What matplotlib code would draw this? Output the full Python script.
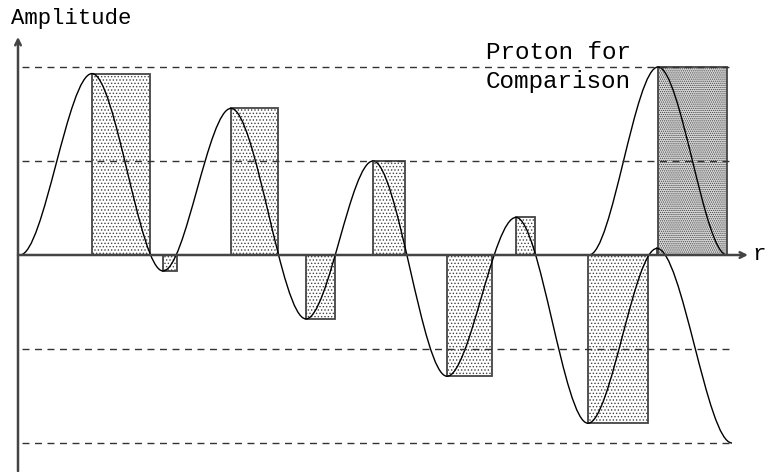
import matplotlib
matplotlib.use('Agg')
import matplotlib.pyplot as plt
from matplotlib.path import Path
from matplotlib.patches import PathPatch, Rectangle

# Turning points of the main wave (x in pixels along r, y in amplitude units)
waveX = [20, 92, 163, 231, 306, 373, 447, 516, 588, 657, 732]
waveY = [0.0, 1.93, -0.17, 1.56, -0.68, 1.0, -1.29, 0.40, -1.79, 0.07, -2.0]

# Stippled boxes: from each extremum to the next zero crossing
boxLeft = [92, 163, 231, 306, 373, 447, 516, 588, 657]
boxRight = [150, 177, 278, 335, 405, 492, 535, 648, 666]
boxHeight = [1.93, -0.17, 1.56, -0.68, 1.0, -1.29, 0.40, -1.79, 0.07]

# The proton pulse drawn for comparison
protonX = [589, 658, 727]
protonY = [0.0, 2.0, 0.0]
protonBox = [658, 727, 2.0]

# Dashed guide levels
guideLevels = [2, 1, -1, -2]


def smoothPath(xs, ys):
    # cubic pieces with flat tangents at every turning point
    verts = [(xs[0], ys[0])]
    codes = [Path.MOVETO]
    for i in range(len(xs) - 1):
        dx = xs[i + 1] - xs[i]
        verts += [(xs[i] + dx / 3.0, ys[i]), (xs[i + 1] - dx / 3.0, ys[i + 1]), (xs[i + 1], ys[i + 1])]
        codes += [Path.CURVE4] * 3
    return Path(verts, codes)


plt.rcParams['font.family'] = ['Liberation Mono', 'DejaVu Sans Mono']
plt.rcParams['hatch.linewidth'] = 0.6

fig = plt.figure(figsize=(7.66, 4.72), dpi=100)
ax = fig.add_axes([0, 0, 1, 1])
ax.set_xlim(0, 766)
ax.set_ylim(-217 / 94.0, 255 / 94.0)
ax.axis('off')

# dashed guide lines
for lev in guideLevels:
    ax.plot([22, 733], [lev, lev], color='#333333', lw=1, dashes=(5, 4))

# light stippled boxes
for i in range(len(boxLeft)):
    ax.add_patch(Rectangle((boxLeft[i], 0), boxRight[i] - boxLeft[i], boxHeight[i],
                           facecolor='white', edgecolor='#444444', lw=1.3, hatch='.....'))

# dense box for the proton
ax.add_patch(Rectangle((protonBox[0], 0), protonBox[1] - protonBox[0], protonBox[2],
                       facecolor='#d8d8d8', edgecolor='#444444', lw=1.3, hatch='........'))

# the curves
ax.add_patch(PathPatch(smoothPath(waveX, waveY), facecolor='none', edgecolor='black', lw=1))
ax.add_patch(PathPatch(smoothPath(protonX, protonY), facecolor='none', edgecolor='black', lw=1))

# axes with open arrow heads
ax.annotate('', xy=(748, 0), xytext=(18, 0),
            arrowprops=dict(arrowstyle='->', color='#444444', lw=1.8, shrinkA=0, shrinkB=0))
ax.annotate('', xy=(18, 2.32), xytext=(18, -2.30),
            arrowprops=dict(arrowstyle='->', color='#444444', lw=1.8, shrinkA=0, shrinkB=0))

# labels
ax.text(11, 2.46, 'Amplitude', fontsize=16, ha='left', va='baseline')
ax.text(752, 0, 'r', fontsize=16, ha='left', va='center')
ax.text(486, 1.777, 'Proton for\nComparison', fontsize=17.5, ha='left', va='baseline',
        linespacing=1.35)

plt.savefig('out.png', dpi=100)
